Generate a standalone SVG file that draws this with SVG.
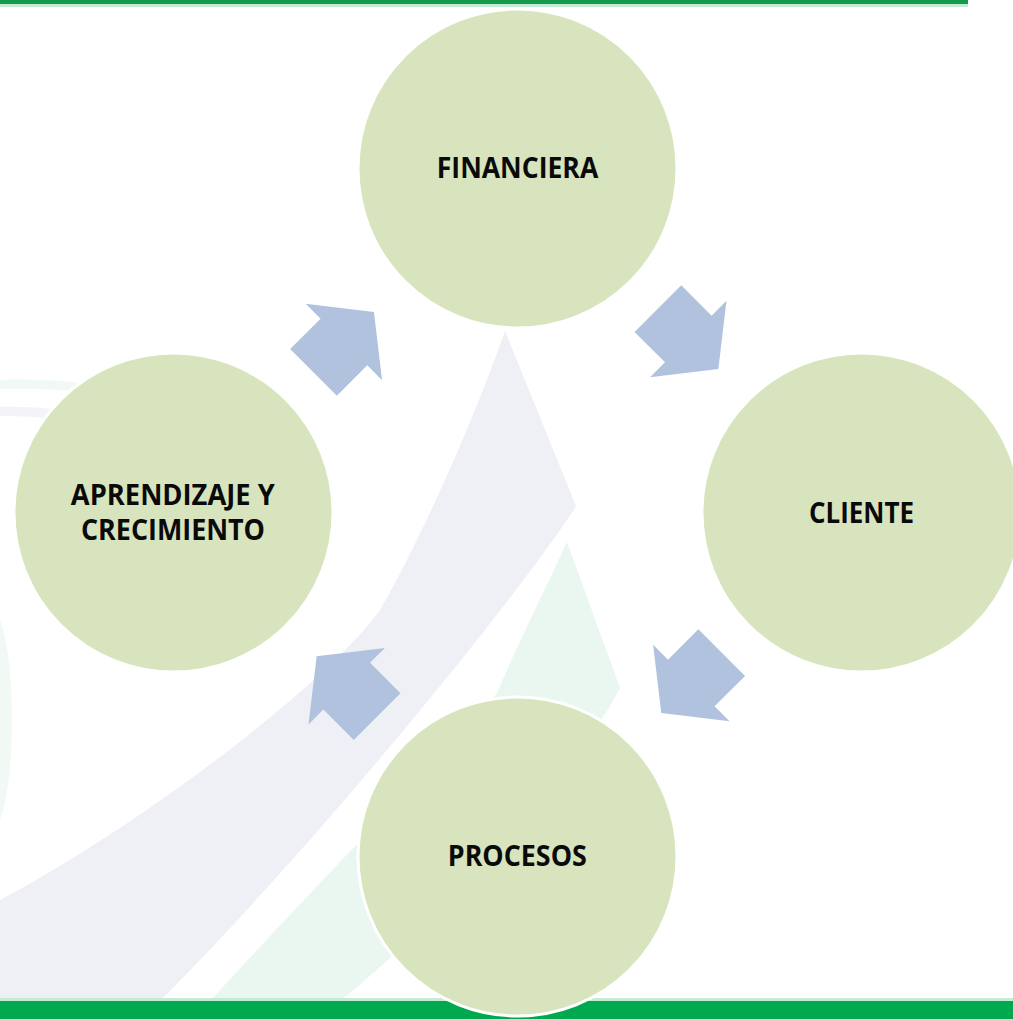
<svg xmlns="http://www.w3.org/2000/svg" width="1013" height="1019" viewBox="0 0 1013 1019">
  <defs>
    <style>
      .node circle { fill: #d7e4bd; stroke: #ffffff; stroke-width: 3; }
      .node text { font-family: "Open Sans", "Liberation Sans", sans-serif; font-weight: 700; font-size: 28px; fill: #0a0a0a; text-anchor: middle; }
      .arrow { fill: #b1c2de; }
      .wm-lav { fill: #eef0f6; }
      .wm-mint { fill: #eaf7f0; }
      .wm-faint { opacity: 0.7; }
    </style>
    <!-- block arrow pointing along +x, origin at the middle of the head base -->
    <polygon id="cycle-arrow" points="-43,-33 0,-33 0,-54 42.5,0 0,54 0,33 -43,33"/>
  </defs>

  <rect x="0" y="0" width="1013" height="1019" fill="#ffffff"/>

  <!-- faint background watermark swooshes -->
  <g id="watermark">
    <path class="wm-lav" d="M505,331 L576,506 C530,580 330,830 160,1001 L0,1001 L0,900 C150,820 330,680 380,610 C420,540 470,430 505,331 Z"/>
    <path class="wm-mint" d="M567,542 L620,688 C560,800 440,920 340,1001 L210,1001 C330,870 440,760 497,693 C515,650 540,600 567,542 Z"/>
    <path class="wm-mint wm-faint" d="M0,380 C40,378 90,382 140,392 L140,398 C90,390 40,388 0,389 Z"/>
    <path class="wm-lav wm-faint" d="M0,407 C30,406 60,409 90,415 L90,423 C60,418 30,416 0,416 Z"/>
    <path class="wm-mint wm-faint" d="M0,620 C16,665 16,775 0,820 Z"/>
  </g>

  <!-- header and footer bars -->
  <g id="bars">
    <rect x="0" y="4" width="968" height="3" fill="#c4ecd5"/>
    <rect x="0" y="0" width="968" height="4" fill="#15994c"/>
    <rect x="0" y="998" width="1013" height="3" fill="#c4ecd5"/>
    <rect x="0" y="1001" width="1013" height="18" fill="#00a94f"/>
  </g>

  <!-- cycle connectors -->
  <g id="connectors">
    <use href="#cycle-arrow" class="arrow" transform="translate(343.9,342) rotate(-45)"/>
    <use href="#cycle-arrow" class="arrow" transform="translate(688.3,339) rotate(45)"/>
    <use href="#cycle-arrow" class="arrow" transform="translate(691.3,683) rotate(135)"/>
    <use href="#cycle-arrow" class="arrow" transform="translate(346.7,686.2) rotate(225)"/>
  </g>

  <!-- perspective nodes -->
  <g id="node-financiera" class="node">
    <circle cx="517.5" cy="168.5" r="159.5"/>
    <text x="517.5" y="177.5" textLength="161.5" lengthAdjust="spacingAndGlyphs">FINANCIERA</text>
  </g>
  <g id="node-cliente" class="node">
    <circle cx="861.5" cy="512.5" r="159.5"/>
    <text x="861.5" y="522.5" textLength="105" lengthAdjust="spacingAndGlyphs">CLIENTE</text>
  </g>
  <g id="node-procesos" class="node">
    <circle cx="517.5" cy="856.5" r="159.5"/>
    <text x="517.3" y="866" textLength="139" lengthAdjust="spacingAndGlyphs">PROCESOS</text>
  </g>
  <g id="node-aprendizaje" class="node">
    <circle cx="173.5" cy="512.5" r="159.5"/>
    <text x="172.8" y="504.5" textLength="204" lengthAdjust="spacingAndGlyphs">APRENDIZAJE Y</text>
    <text x="173" y="539.5" textLength="184" lengthAdjust="spacingAndGlyphs">CRECIMIENTO</text>
  </g>
</svg>
